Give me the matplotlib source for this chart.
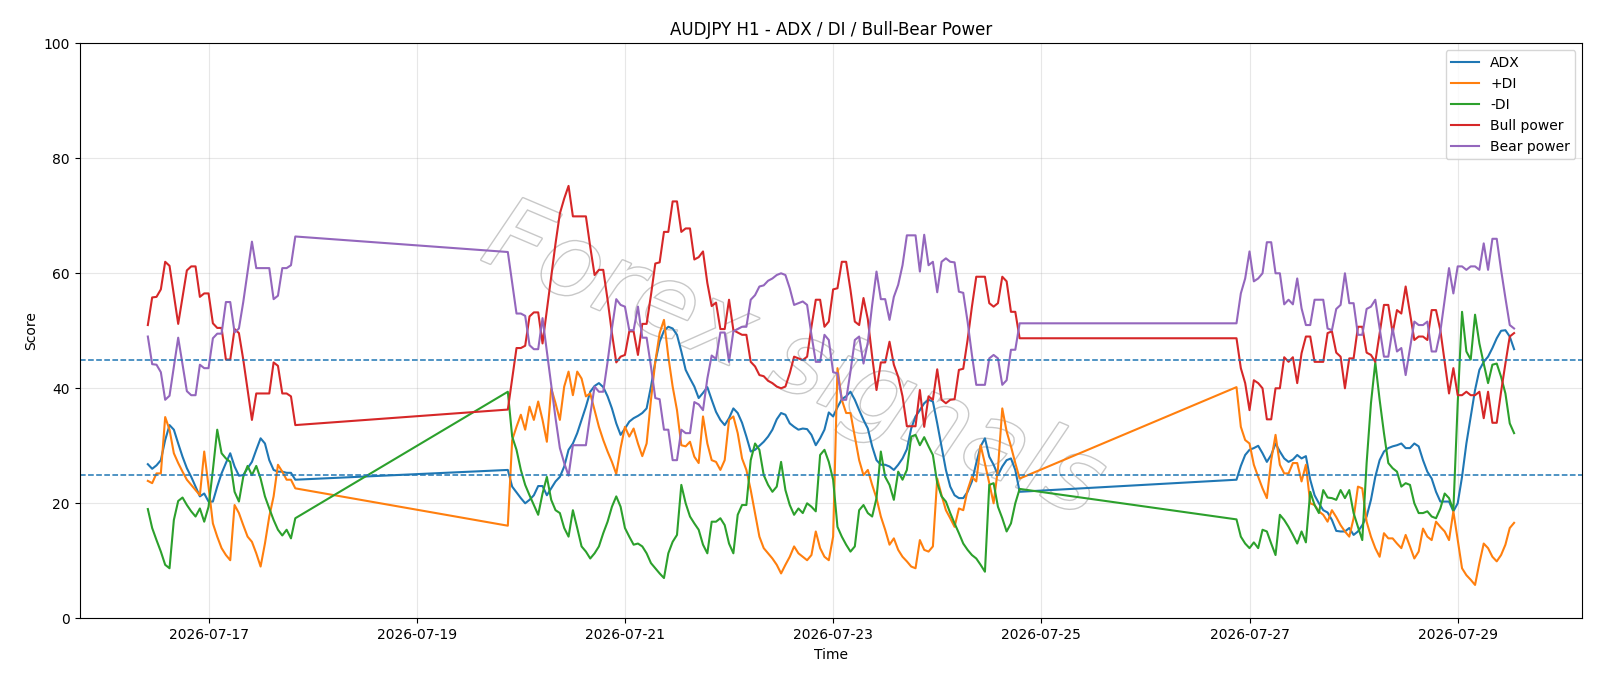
import matplotlib
matplotlib.use("Agg")
import matplotlib.pyplot as plt
import matplotlib.dates as mdates
import matplotlib.patheffects as pe
import numpy as np
import pandas as pd

# ----- Data -------------------------------------------------

# three trading blocks (weekends missing), hourly bars
segment_starts = ["2026-07-16 10:00", "2026-07-19 21:00", "2026-07-26 21:00"]
segment_lengths = [35, 119, 65]

adx = [
    # 07-16 10:00 .. 07-17 20:00
    26.8, 26.0, 26.6, 27.5, 31.0, 33.6, 32.8, 30.4, 28.1, 26.1, 24.6, 22.9, 21.2, 21.7, 20.3, 20.3,
    22.9, 25.2, 27.0, 28.7, 26.4, 24.8, 24.9, 26.1, 27.2, 29.3, 31.3, 30.4, 27.5, 25.8, 25.5, 25.5,
    25.3, 25.3, 24.1,
    # 07-19 21:00 .. 07-24 19:00
    25.8, 22.9, 21.9, 20.9, 20.0, 20.6, 21.4, 23.0, 23.0, 21.4, 22.6, 23.8, 24.6, 26.4, 29.3, 30.4,
    32.2, 34.5, 36.8, 39.4, 40.4, 40.9, 40.2, 38.6, 36.5, 33.9, 31.9, 33.0, 34.2, 34.8, 35.2, 35.7,
    36.5, 40.3, 44.6, 48.1, 50.0, 50.7, 50.4, 49.3, 46.4, 43.2, 41.7, 40.3, 38.3, 39.2, 40.2, 38.0,
    35.9, 34.5, 33.6, 34.8, 36.5, 35.7, 34.0, 31.6, 29.0, 29.3, 30.0, 30.7, 31.6, 32.8, 34.6, 35.7,
    35.4, 33.9, 33.3, 32.8, 33.0, 32.9, 31.9, 30.1, 31.3, 32.8, 35.8, 35.1, 36.7, 38.1, 38.6, 39.4,
    38.0, 36.2, 34.5, 33.0, 29.9, 27.5, 26.7, 26.7, 26.4, 25.8, 26.7, 27.8, 29.4, 33.0, 35.1, 36.2,
    37.4, 38.0, 37.7, 33.9, 29.9, 25.8, 22.9, 21.4, 20.9, 20.9, 22.0, 23.8, 27.0, 29.9, 31.3, 28.1,
    26.7, 24.9, 26.4, 27.5, 27.8, 25.8, 22.0,
    # 07-26 21:00 .. 07-29 13:00
    24.1, 26.5, 28.4, 29.3, 29.6, 30.0, 28.7, 27.2, 28.4, 30.4, 29.0, 27.8, 27.2, 27.6, 28.4, 27.8,
    28.2, 24.1, 21.4, 20.0, 18.8, 18.4, 17.1, 15.2, 15.1, 15.1, 15.7, 14.5, 15.1, 16.2, 17.7, 20.6,
    24.6, 27.5, 29.0, 29.6, 29.9, 30.1, 30.4, 29.6, 29.6, 30.4, 29.9, 27.5, 25.5, 24.3, 22.0, 20.3,
    20.3, 20.3, 18.6, 20.0, 24.6, 30.4, 35.1, 39.7, 43.2, 44.6, 45.5, 47.0, 48.7, 50.0, 50.1, 49.0,
    46.8,
]

plus_di = [
    23.9, 23.5, 25.2, 25.2, 35.0, 32.8, 28.7, 27.0, 25.5, 24.1, 23.2, 22.3, 21.4, 29.0, 22.9, 16.5,
    14.2, 12.2, 11.0, 10.1, 19.7, 18.3, 16.2, 14.2, 13.3, 11.3, 9.0, 13.0, 17.7, 21.2, 26.7, 25.5,
    24.1, 24.1, 22.6,
    16.1, 31.0, 33.3, 35.4, 32.8, 36.8, 34.5, 37.7, 34.5, 30.7, 40.0, 37.4, 34.5, 40.3, 42.9, 38.8,
    42.9, 41.7, 38.6, 39.1, 36.2, 33.3, 31.0, 29.0, 27.2, 25.1, 29.6, 33.3, 31.6, 33.0, 30.4, 28.2,
    30.4, 38.0, 44.6, 49.6, 51.9, 45.5, 40.3, 36.2, 30.1, 29.9, 30.7, 28.1, 27.0, 35.1, 30.4, 27.5,
    27.2, 25.8, 27.5, 34.5, 35.1, 32.2, 27.8, 25.8, 22.3, 18.3, 14.2, 12.2, 11.3, 10.4, 9.3, 7.8,
    9.3, 10.7, 12.5, 11.3, 10.7, 10.1, 11.0, 15.1, 12.2, 10.7, 10.1, 14.2, 43.5, 38.0, 35.7, 35.7,
    31.6, 27.5, 24.9, 25.8, 23.2, 20.9, 17.7, 15.4, 12.8, 13.9, 11.9, 10.7, 9.9, 9.0, 8.7, 13.6,
    11.9, 11.6, 12.5, 24.3, 21.4, 18.8, 17.4, 15.9, 19.1, 18.8, 22.3, 24.6, 23.8, 30.1, 26.9, 23.5,
    20.0, 26.0, 36.5, 32.5, 29.9, 27.0, 24.3,
    40.2, 33.3, 31.0, 30.4, 26.7, 24.6, 22.6, 20.9, 27.5, 31.9, 26.7, 25.2, 25.2, 27.0, 27.0, 23.8,
    26.7, 20.0, 19.7, 18.6, 18.0, 16.8, 18.8, 17.6, 16.2, 15.1, 14.2, 17.4, 22.9, 22.6, 16.8, 14.2,
    12.2, 10.7, 14.8, 13.9, 13.9, 13.0, 12.2, 14.5, 12.5, 10.4, 11.6, 15.6, 14.2, 13.6, 16.8, 15.9,
    15.1, 13.6, 18.6, 13.6, 8.7, 7.5, 6.7, 5.8, 9.6, 13.0, 12.2, 10.7, 9.9, 11.0, 12.8, 15.7,
    16.6,
]

minus_di = [
    19.0, 15.7, 13.6, 11.6, 9.3, 8.7, 17.1, 20.4, 21.0, 19.7, 18.6, 17.7, 19.1, 16.8, 19.4, 25.8,
    32.8, 28.7, 27.8, 27.2, 22.0, 20.3, 24.6, 26.5, 24.9, 26.5, 24.3, 21.2, 19.1, 17.1, 15.4, 14.4,
    15.4, 13.9, 17.4,
    39.4, 31.6, 29.3, 25.8, 23.2, 21.4, 19.7, 18.0, 21.7, 24.6, 20.6, 18.8, 18.3, 15.7, 14.2, 18.8,
    15.7, 12.5, 11.6, 10.4, 11.3, 12.5, 14.8, 16.8, 19.4, 21.2, 19.4, 15.7, 14.2, 12.8, 13.0, 12.5,
    11.3, 9.6, 8.7, 7.8, 7.0, 11.3, 13.3, 14.5, 23.2, 20.0, 17.7, 16.5, 15.4, 12.8, 11.3, 16.8,
    16.8, 17.4, 16.2, 13.0, 11.3, 18.0, 19.7, 19.7, 27.5, 30.4, 29.3, 24.9, 23.2, 22.0, 22.9, 27.2,
    22.3, 19.7, 18.0, 19.1, 18.3, 20.0, 19.4, 18.6, 28.4, 29.3, 27.2, 24.1, 15.9, 14.2, 12.8, 11.6,
    12.5, 18.8, 19.7, 18.3, 17.7, 20.9, 29.0, 24.6, 23.2, 20.6, 25.5, 24.1, 25.8, 31.6, 31.9, 30.1,
    31.5, 29.9, 28.4, 23.5, 21.2, 20.3, 18.3, 16.5, 14.8, 13.0, 11.9, 11.0, 10.4, 9.3, 8.1, 23.2,
    23.5, 19.4, 17.4, 15.1, 16.5, 20.0, 22.5,
    17.2, 14.2, 13.0, 12.2, 13.2, 12.2, 15.4, 15.1, 13.0, 11.0, 18.0, 17.1, 15.9, 14.5, 13.0, 15.1,
    13.2, 22.0, 19.7, 18.3, 22.3, 21.0, 20.9, 20.6, 22.3, 20.9, 22.3, 18.3, 15.9, 13.6, 27.0, 37.4,
    44.5, 38.0, 32.2, 27.0, 26.1, 25.5, 22.9, 23.5, 23.2, 20.0, 18.3, 18.3, 18.6, 17.7, 17.4, 19.1,
    21.7, 20.9, 18.8, 37.4, 53.3, 46.4, 45.0, 52.8, 47.8, 44.3, 40.9, 44.1, 44.3, 42.0, 39.1, 33.9,
    32.2,
]

bull_power = [
    51.0, 55.8, 55.9, 57.2, 62.0, 61.3, 56.2, 51.2, 55.9, 60.5, 61.2, 61.2, 55.9, 56.5, 56.5, 51.3,
    50.5, 50.5, 45.0, 45.0, 50.3, 49.6, 45.0, 39.7, 34.5, 39.1, 39.1, 39.1, 39.1, 44.5, 43.9, 39.1,
    39.1, 38.6, 33.6,
    36.3, 41.7, 47.0, 47.0, 47.4, 52.5, 53.2, 53.2, 47.8, 53.6, 59.4, 65.2, 70.4, 73.0, 75.2, 69.9,
    69.9, 69.9, 69.9, 64.6, 59.7, 60.6, 60.6, 55.4, 49.6, 44.5, 45.5, 45.8, 49.9, 49.9, 45.8, 51.2,
    51.2, 56.2, 61.7, 61.9, 67.2, 67.2, 72.5, 72.5, 67.2, 67.8, 67.8, 62.4, 62.8, 63.8, 58.3, 54.3,
    54.9, 50.3, 50.3, 55.4, 50.1, 49.7, 49.3, 49.3, 44.6, 43.8, 42.3, 42.1, 41.3, 40.9, 40.3, 40.0,
    40.3, 42.6, 45.5, 45.2, 44.9, 45.5, 50.7, 55.4, 55.4, 50.7, 51.6, 57.2, 57.4, 62.0, 62.0, 57.1,
    51.6, 51.0, 55.7, 52.0, 45.5, 39.7, 44.5, 44.5, 48.1, 44.1, 42.0, 38.6, 33.4, 33.4, 33.4, 39.7,
    33.3, 38.6, 38.0, 43.3, 38.0, 37.4, 38.0, 38.1, 43.2, 43.4, 48.4, 54.2, 59.4, 59.4, 59.4, 54.8,
    54.2, 54.8, 59.4, 58.6, 53.3, 53.3, 48.7,
    48.7, 43.5, 40.9, 36.2, 41.4, 40.9, 40.0, 34.6, 34.6, 40.0, 40.0, 45.4, 44.6, 45.4, 40.9, 46.1,
    49.0, 49.0, 44.6, 44.6, 44.6, 49.6, 49.9, 46.2, 45.5, 40.0, 45.2, 45.2, 50.7, 50.7, 46.2, 45.8,
    44.6, 49.6, 54.5, 54.5, 49.6, 53.6, 53.0, 57.7, 53.0, 48.4, 49.0, 49.0, 48.4, 53.6, 53.6, 50.1,
    44.6, 39.1, 43.5, 38.8, 38.8, 39.4, 38.8, 38.8, 39.4, 34.8, 39.4, 34.0, 34.0, 39.4, 44.3, 49.0,
    49.6,
]

bear_power = [
    49.0, 44.2, 44.1, 42.8, 38.0, 38.7, 43.8, 48.8, 44.1, 39.5, 38.8, 38.8, 44.1, 43.5, 43.5, 48.7,
    49.5, 49.5, 55.0, 55.0, 49.7, 50.4, 55.0, 60.3, 65.5, 60.9, 60.9, 60.9, 60.9, 55.5, 56.1, 60.9,
    60.9, 61.4, 66.4,
    63.7, 58.3, 53.0, 53.0, 52.6, 47.5, 46.8, 46.8, 52.2, 46.4, 40.6, 34.8, 29.6, 27.0, 24.8, 30.1,
    30.1, 30.1, 30.1, 35.4, 40.3, 39.4, 39.4, 44.6, 50.4, 55.5, 54.5, 54.2, 50.1, 50.1, 54.2, 48.8,
    48.8, 43.8, 38.3, 38.1, 32.8, 32.8, 27.5, 27.5, 32.8, 32.2, 32.2, 37.6, 37.2, 36.2, 41.7, 45.7,
    45.1, 49.7, 49.7, 44.6, 49.9, 50.3, 50.7, 50.7, 55.4, 56.2, 57.7, 57.9, 58.7, 59.1, 59.7, 60.0,
    59.7, 57.4, 54.5, 54.8, 55.1, 54.5, 49.3, 44.6, 44.6, 49.3, 48.4, 42.8, 42.6, 38.0, 38.0, 42.9,
    48.4, 49.0, 44.3, 48.0, 54.5, 60.3, 55.5, 55.5, 51.9, 55.9, 58.0, 61.4, 66.6, 66.6, 66.6, 60.3,
    66.7, 61.4, 62.0, 56.7, 62.0, 62.6, 62.0, 61.9, 56.8, 56.6, 51.6, 45.8, 40.6, 40.6, 40.6, 45.2,
    45.8, 45.2, 40.6, 41.4, 46.7, 46.7, 51.3,
    51.3, 56.5, 59.1, 63.8, 58.6, 59.1, 60.0, 65.4, 65.4, 60.0, 60.0, 54.6, 55.4, 54.6, 59.1, 53.9,
    51.0, 51.0, 55.4, 55.4, 55.4, 50.4, 50.1, 53.8, 54.5, 60.0, 54.8, 54.8, 49.3, 49.3, 53.8, 54.2,
    55.4, 50.4, 45.5, 45.5, 50.4, 46.4, 47.0, 42.3, 47.0, 51.6, 51.0, 51.0, 51.6, 46.4, 46.4, 49.9,
    55.4, 60.9, 56.5, 61.2, 61.2, 60.6, 61.2, 61.2, 60.6, 65.2, 60.6, 66.0, 66.0, 60.6, 55.7, 51.0,
    50.4,
]

levels = [25, 45]

# ----- Plot -------------------------------------------------

times = pd.DatetimeIndex(np.concatenate([
    pd.date_range(s, periods=n, freq="h").values
    for s, n in zip(segment_starts, segment_lengths)
]))

fig = plt.figure(figsize=(16, 6.86), dpi=100)
ax = fig.add_axes([0.0497, 0.0987, 0.9393, 0.8382])

series = [
    ("ADX", adx),
    ("+DI", plus_di),
    ("-DI", minus_di),
    ("Bull power", bull_power),
    ("Bear power", bear_power),
]
for label, values in series:
    ax.plot(times, values, label=label, linewidth=1.5)

for lv in levels:
    ax.axhline(lv, color="tab:blue", linestyle="--", linewidth=1.1)

# watermark
ax.text(0.475, 0.445, "Forex signals", transform=ax.transAxes, fontsize=72,
        color="white", rotation=-23, ha="center", va="center", style="italic",
        zorder=0, path_effects=[pe.withStroke(linewidth=2.0, foreground="#c8c8c8")])

ax.set_ylim(0, 100)
ax.grid(True, alpha=0.3)
ax.xaxis.set_major_locator(mdates.DayLocator(bymonthday=range(1, 32, 2)))
ax.xaxis.set_major_formatter(mdates.DateFormatter("%Y-%m-%d"))
ax.set_title("AUDJPY H1 - ADX / DI / Bull-Bear Power")
ax.set_xlabel("Time")
ax.set_ylabel("Score")
ax.legend(loc="upper right")

fig.savefig("out.png", dpi=100)
